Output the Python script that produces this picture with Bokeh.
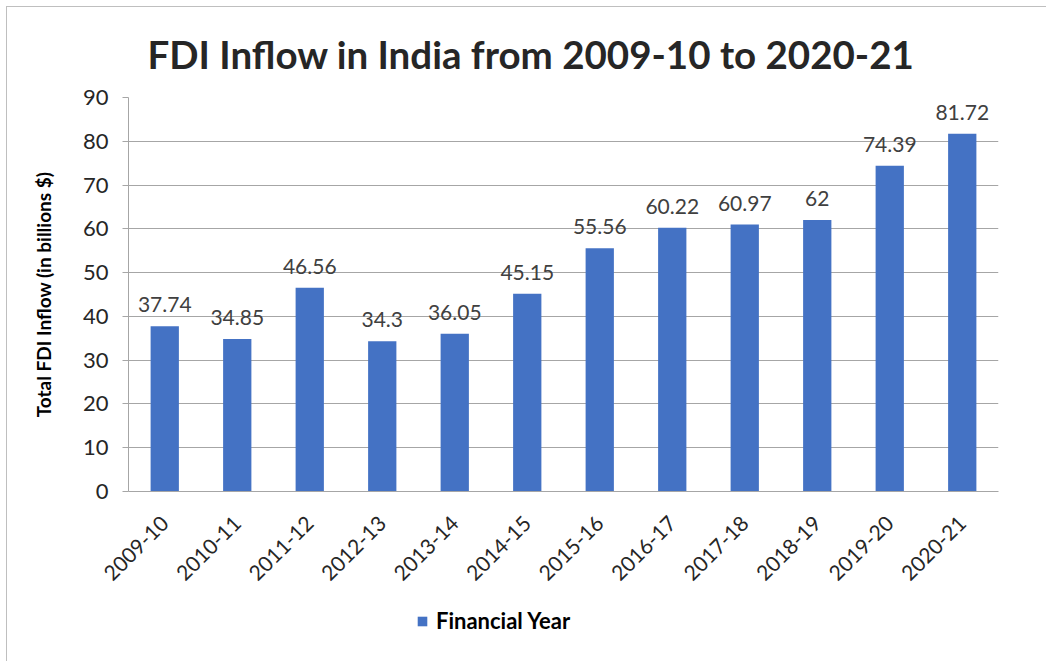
import math
from bokeh.plotting import figure
from bokeh.layouts import column
from bokeh.models import ColumnDataSource, LabelSet, Range1d, FactorRange, Legend, LegendItem
from bokeh.core.properties import value
from bokeh.embed import file_html
from bokeh.resources import INLINE

years = ["2009-10", "2010-11", "2011-12", "2012-13", "2013-14", "2014-15",
         "2015-16", "2016-17", "2017-18", "2018-19", "2019-20", "2020-21"]
fdi = [37.74, 34.85, 46.56, 34.3, 36.05, 45.15, 55.56, 60.22, 60.97, 62, 74.39, 81.72]
fdi_labels = ["37.74", "34.85", "46.56", "34.3", "36.05", "45.15",
              "55.56", "60.22", "60.97", "62", "74.39", "81.72"]
y_ticks = [0, 10, 20, 30, 40, 50, 60, 70, 80, 90]
series_name = "Financial Year"

FONT = "Lato"
BAR = "#4472C4"
GRID = "#a6a6a6"
FRAME_BORDER = "1px solid #bfbfbf"

src = ColumnDataSource(dict(year=years, fdi=fdi, lab=fdi_labels))

p = figure(width=1040, height=600, x_range=FactorRange(*years, range_padding=0),
           y_range=Range1d(0, 90), output_backend="svg", toolbar_location=None,
           min_border_left=121, min_border_right=49, min_border_top=90, min_border_bottom=116,
           title="FDI Inflow in India from 2009-10 to 2020-21")
p.margin = (6, 0, 0, 6)
p.styles = {"border-left": FRAME_BORDER, "border-top": FRAME_BORDER}
p.outline_line_color = None

p.title.text_font = FONT
p.title.text_font_size = "38.5px"
p.title.text_font_style = "bold"
p.title.text_color = "#262626"
p.title.align = "left"
p.title.offset = 19
p.title.standoff = 42

p.vbar(x="year", top="fdi", width=0.39, source=src, fill_color=BAR, line_color=None)

labels = LabelSet(x="year", y="fdi", text="lab", source=src, text_align="center",
                  text_baseline="bottom", y_offset=14, text_font=value(FONT),
                  text_font_size="21px", text_color="#404040")
p.add_layout(labels)

p.xgrid.grid_line_color = None
p.ygrid.grid_line_color = GRID
p.ygrid.ticker = y_ticks

p.yaxis.ticker = y_ticks
p.yaxis.axis_line_color = GRID
p.yaxis.major_tick_line_color = GRID
p.yaxis.major_tick_out = 6
p.yaxis.major_tick_in = 0
p.yaxis.minor_tick_line_color = None
p.yaxis.major_label_text_font = FONT
p.yaxis.major_label_text_font_size = "22px"
p.yaxis.major_label_text_color = "#262626"
p.yaxis.major_label_standoff = 14
p.yaxis.axis_label = "Total FDI Inflow (in billions $)"
p.yaxis.axis_label_text_font = FONT
p.yaxis.axis_label_text_font_size = "19px"
p.yaxis.axis_label_text_font_style = "bold"
p.yaxis.axis_label_text_color = "#000000"
p.yaxis.axis_label_standoff = 25

p.xaxis.axis_line_color = GRID
p.xaxis.major_tick_line_color = None
p.xaxis.minor_tick_line_color = None
p.xaxis.major_label_orientation = math.pi / 4
p.xaxis.major_label_text_font = FONT
p.xaxis.major_label_text_font_size = "21px"
p.xaxis.major_label_text_color = "#262626"
p.xaxis.major_label_standoff = 22

# legend strip below the chart (same series, bars fall outside its visible range)
lg = figure(width=1040, height=55, x_range=FactorRange(*years, range_padding=0),
            y_range=Range1d(200, 300), output_backend="svg", toolbar_location=None,
            x_axis_type=None, y_axis_type=None,
            min_border_left=0, min_border_right=0, min_border_top=0, min_border_bottom=0)
lg.margin = (0, 0, 0, 6)
lg.styles = {"border-left": FRAME_BORDER}
lg.outline_line_color = None
lg.grid.grid_line_color = None
r2 = lg.vbar(x="year", top="fdi", width=0.39, source=src, fill_color=BAR, line_color=None)

legend = Legend(items=[LegendItem(label=series_name, renderers=[r2])],
                location=(288, 27), orientation="horizontal",
                label_text_font=FONT, label_text_font_size="22px", label_text_font_style="bold",
                label_text_color="#000000", glyph_width=12, glyph_height=12,
                label_standoff=8, padding=0, margin=0,
                border_line_color=None, background_fill_alpha=0)
lg.add_layout(legend, "center")

layout = column(p, lg, spacing=0)
open("out.html", "w").write(file_html(layout, INLINE))
